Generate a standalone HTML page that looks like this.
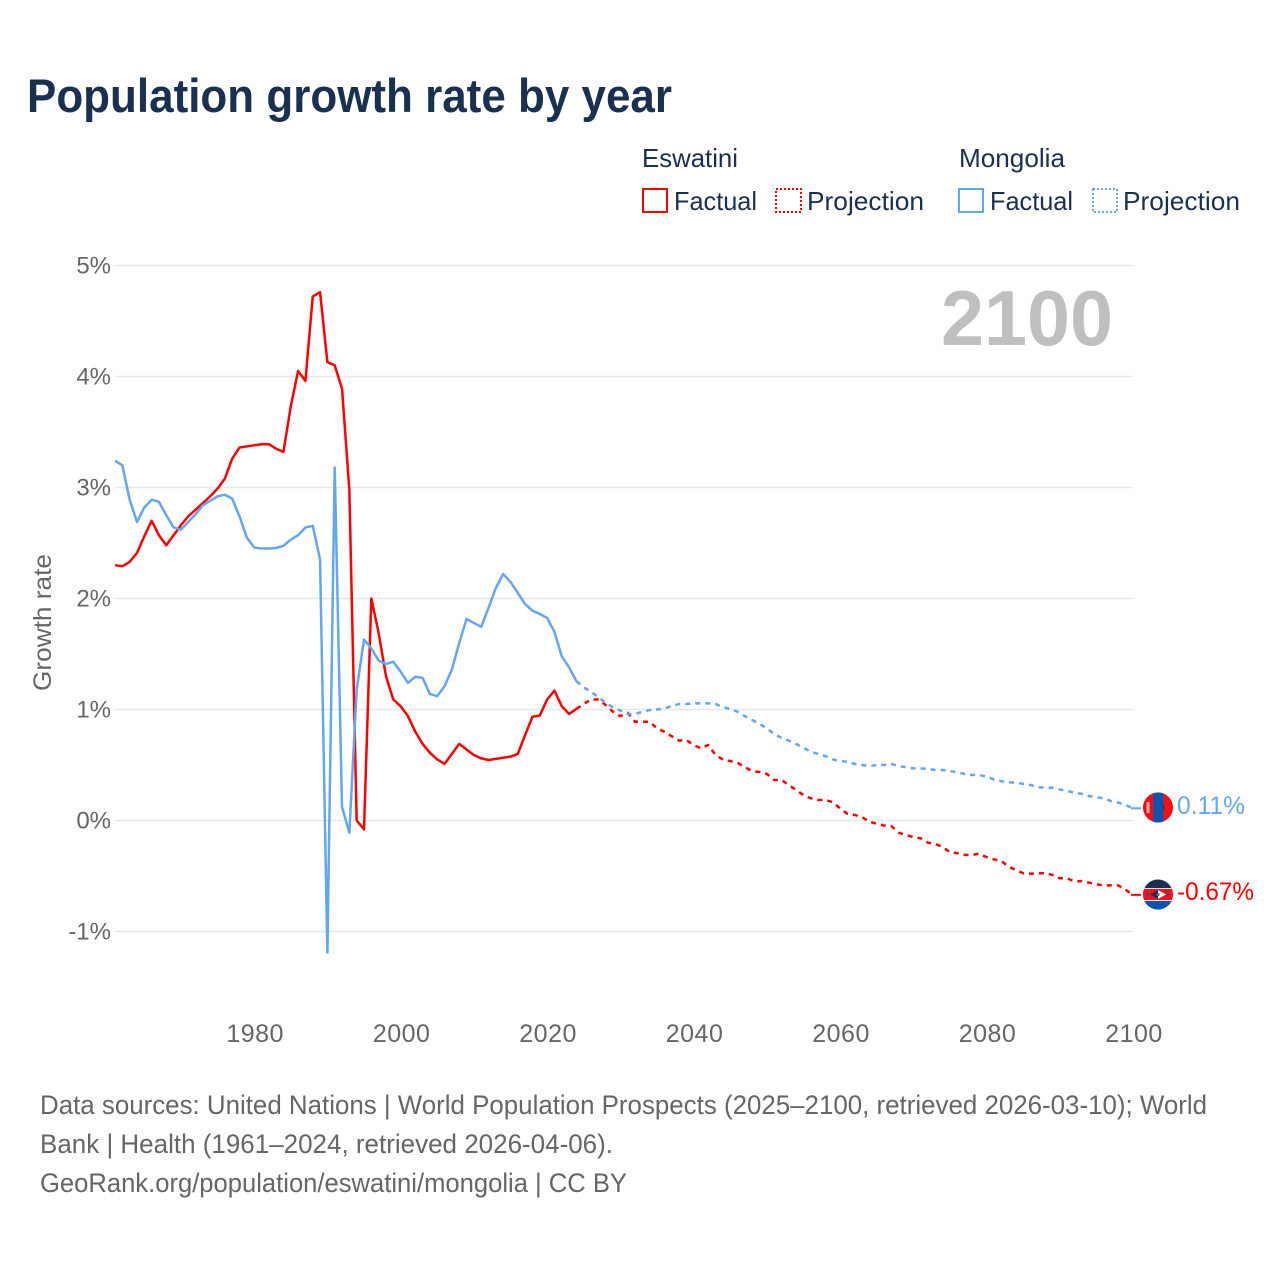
<!DOCTYPE html>
<html lang="en">
<head>
<meta charset="utf-8">
<title>Population growth rate by year</title>
<style>
  html, body { margin: 0; padding: 0; background: #ffffff; }
  svg { display: block; font-family: "Liberation Sans", sans-serif; }
</style>
</head>
<body>
<svg id="chart" xmlns="http://www.w3.org/2000/svg" width="1280" height="1280" viewBox="0 0 1280 1280">
  <defs>
    <clipPath id="flag-clip-mn"><circle cx="1158" cy="807.5" r="15"/></clipPath>
    <clipPath id="flag-clip-sz"><circle cx="1158" cy="894.5" r="15"/></clipPath>
  </defs>

  <text x="27" y="112" font-size="47" font-weight="700" fill="#1a3050" textLength="645" lengthAdjust="spacingAndGlyphs">Population growth rate by year</text>

  <g font-size="26" fill="#1a3050">
    <text x="642" y="167" textLength="96" lengthAdjust="spacingAndGlyphs">Eswatini</text>
    <text x="959" y="167" textLength="106" lengthAdjust="spacingAndGlyphs">Mongolia</text>
    <rect x="643" y="189" width="24" height="23" fill="none" stroke="#ff0000" stroke-width="2"/>
    <text x="674" y="210" textLength="83" lengthAdjust="spacingAndGlyphs">Factual</text>
    <rect x="776" y="189" width="25" height="23" fill="none" stroke="#ff0000" stroke-width="2" stroke-dasharray="2 2"/>
    <text x="807" y="210" textLength="117" lengthAdjust="spacingAndGlyphs">Projection</text>
    <rect x="959" y="189" width="24" height="23" fill="none" stroke="#64a7ec" stroke-width="2"/>
    <text x="990" y="210" textLength="83" lengthAdjust="spacingAndGlyphs">Factual</text>
    <rect x="1093" y="189" width="24" height="23" fill="none" stroke="#64a7ec" stroke-width="2" stroke-dasharray="2 2"/>
    <text x="1123" y="210" textLength="117" lengthAdjust="spacingAndGlyphs">Projection</text>
  </g>

  <text transform="translate(51,622.5) rotate(-90)" text-anchor="middle" font-size="25" fill="#666666" textLength="137" lengthAdjust="spacingAndGlyphs">Growth rate</text>

  <g id="grid"></g>
  <g id="y-ticks"></g>
  <g id="x-ticks"></g>

  <text x="941" y="345" font-size="78" font-weight="700" fill="#bfbfbf" textLength="172" lengthAdjust="spacingAndGlyphs">2100</text>

  <g id="series"></g>

  <g clip-path="url(#flag-clip-mn)">
    <rect x="1143" y="792" width="30" height="31" fill="#f70d12"/>
    <rect x="1153" y="792" width="10.5" height="31" fill="#0a55b0"/>
    <rect x="1146.5" y="802" width="3" height="11" fill="#f8b0a8"/>
    <rect x="1163" y="805" width="1" height="4" fill="#102a50"/>
  </g>
  <g clip-path="url(#flag-clip-sz)">
    <rect x="1143" y="879" width="30" height="31" fill="#182f52"/>
    <rect x="1143" y="888" width="30" height="13" fill="#f5e6d0"/>
    <rect x="1143" y="889" width="30" height="11" fill="#f5101c"/>
    <rect x="1143" y="901" width="30" height="9" fill="#0a55b0"/>
    <polygon points="1150,894.5 1158,890 1158,899" fill="#182f52"/>
    <polygon points="1166,894.5 1158,890 1158,899" fill="#ffffff"/>
    <circle cx="1158" cy="894.5" r="1.6" fill="#666"/>
    <circle cx="1148" cy="894.5" r="1.3" fill="#0a55b0"/>
    <circle cx="1168" cy="894.5" r="1.3" fill="#0a55b0"/>
  </g>

  <text x="1177" y="814" font-size="25" fill="#64a7ec" textLength="68" lengthAdjust="spacingAndGlyphs">0.11%</text>
  <text x="1177" y="900" font-size="25" fill="#ff0000" textLength="77" lengthAdjust="spacingAndGlyphs">-0.67%</text>

  <g font-size="26.5" fill="#666666">
    <text x="40" y="1114" textLength="1167" lengthAdjust="spacingAndGlyphs">Data sources: United Nations | World Population Prospects (2025–2100, retrieved 2026-03-10); World</text>
    <text x="40" y="1153" textLength="573" lengthAdjust="spacingAndGlyphs">Bank | Health (1961–2024, retrieved 2026-04-06).</text>
    <text x="40" y="1192" textLength="587" lengthAdjust="spacingAndGlyphs">GeoRank.org/population/eswatini/mongolia | CC BY</text>
  </g>
</svg>

<script>
// Chart data: growth rate in percent, one value per year.
const factualStartYear = 1961;
const projectionStartYear = 2024;
const xTickYears = [1980, 2000, 2020, 2040, 2060, 2080, 2100];
const yTickValues = [-1, 0, 1, 2, 3, 4, 5];
const yTickLabels = ["-1%", "0%", "1%", "2%", "3%", "4%", "5%"];

const eswatiniFactual = [
  2.30, 2.29, 2.33, 2.41, 2.56, 2.70, 2.57, 2.48, 2.57, 2.66,
  2.74, 2.80, 2.86, 2.92, 2.99, 3.08, 3.26, 3.36, 3.37, 3.38,
  3.39, 3.39, 3.35, 3.32, 3.73, 4.05, 3.96, 4.72, 4.76, 4.13,
  4.10, 3.89, 2.98, 0.00, -0.08, 2.00, 1.69, 1.30, 1.09, 1.03,
  0.94, 0.80, 0.69, 0.61, 0.55, 0.51, 0.60, 0.69, 0.64, 0.59,
  0.56, 0.545, 0.555, 0.565, 0.575, 0.60, 0.77, 0.935, 0.945, 1.09,
  1.17, 1.03, 0.96, 1.005
];
const eswatiniProjection = [
  1.005, 1.05, 1.09, 1.09, 1.04, 0.98, 0.94, 0.97, 0.89, 0.89,
  0.89, 0.83, 0.80, 0.76, 0.72, 0.725, 0.68, 0.65, 0.68, 0.59,
  0.55, 0.535, 0.52, 0.48, 0.445, 0.437, 0.42, 0.365, 0.365, 0.32,
  0.275, 0.23, 0.20, 0.185, 0.185, 0.165, 0.11, 0.06, 0.05, 0.03,
  -0.01, -0.03, -0.045, -0.05, -0.11, -0.13, -0.15, -0.16, -0.20, -0.21,
  -0.24, -0.285, -0.295, -0.31, -0.31, -0.30, -0.33, -0.35, -0.365, -0.415,
  -0.445, -0.475, -0.48, -0.475, -0.475, -0.49, -0.52, -0.52, -0.55, -0.545,
  -0.56, -0.575, -0.585, -0.585, -0.585, -0.625, -0.67
];
const mongoliaFactual = [
  3.24, 3.20, 2.89, 2.69, 2.82, 2.89, 2.87, 2.75, 2.64, 2.62,
  2.69, 2.76, 2.84, 2.88, 2.92, 2.935, 2.90, 2.74, 2.55, 2.46,
  2.45, 2.45, 2.455, 2.475, 2.53, 2.57, 2.64, 2.655, 2.35, -1.19,
  3.18, 0.12, -0.11, 1.18, 1.63, 1.55, 1.44, 1.41, 1.43, 1.34,
  1.24, 1.295, 1.285, 1.14, 1.12, 1.21, 1.36, 1.60, 1.815, 1.78,
  1.745, 1.915, 2.095, 2.22, 2.15, 2.05, 1.95, 1.89, 1.86, 1.825,
  1.70, 1.48, 1.38, 1.255
];
const mongoliaProjection = [
  1.255, 1.20, 1.16, 1.11, 1.06, 1.02, 0.99, 0.96, 0.96, 0.98,
  0.995, 1.00, 1.01, 1.03, 1.05, 1.05, 1.055, 1.055, 1.055, 1.05,
  1.02, 1.005, 0.98, 0.94, 0.905, 0.87, 0.83, 0.78, 0.745, 0.72,
  0.69, 0.655, 0.62, 0.60, 0.58, 0.55, 0.535, 0.53, 0.51, 0.50,
  0.49, 0.50, 0.50, 0.51, 0.49, 0.48, 0.47, 0.47, 0.465, 0.455,
  0.455, 0.445, 0.435, 0.42, 0.41, 0.41, 0.395, 0.37, 0.355, 0.345,
  0.34, 0.33, 0.32, 0.30, 0.295, 0.295, 0.28, 0.265, 0.25, 0.24,
  0.22, 0.21, 0.20, 0.175, 0.16, 0.14, 0.11
];

const SVG_NS = "http://www.w3.org/2000/svg";
const RED = "#ff0000";
const BLUE = "#64a7ec";

function xScale(year) { return 115 + (year - 1961) * (1133 - 115) / 139; }
function yScale(value) { return 820.5 - value * 111; }

function buildPoints(startYear, values) {
  return values.map(function (v, i) {
    return xScale(startYear + i).toFixed(2) + "," + yScale(v).toFixed(2);
  }).join(" ");
}

function drawSeries(startYear, values, color, dash) {
  const line = document.createElementNS(SVG_NS, "polyline");
  line.setAttribute("points", buildPoints(startYear, values));
  line.setAttribute("fill", "none");
  line.setAttribute("stroke", color);
  line.setAttribute("stroke-width", "2.5");
  line.setAttribute("stroke-linejoin", "round");
  if (dash) { line.setAttribute("stroke-dasharray", dash); }
  document.getElementById("series").appendChild(line);
  return line;
}

function drawLeader(values, color) {
  const last = values[values.length - 1];
  const line = document.createElementNS(SVG_NS, "line");
  line.setAttribute("x1", xScale(2100) - 2);
  line.setAttribute("x2", "1141");
  line.setAttribute("y1", yScale(last));
  line.setAttribute("y2", yScale(last));
  line.setAttribute("stroke", color);
  line.setAttribute("stroke-width", "2");
  document.getElementById("series").appendChild(line);
  return line;
}

yTickValues.forEach(function (v, i) {
  const grid = document.createElementNS(SVG_NS, "line");
  
  
  grid.setAttribute("x1", xScale(1961));
  grid.setAttribute("x2", xScale(2100));
  grid.setAttribute("y1", yScale(v));
  grid.setAttribute("y2", yScale(v));
  grid.setAttribute("stroke", "#e8e8e8");
  grid.setAttribute("stroke-width", "1.5");
  document.getElementById("grid").appendChild(grid);

  const label = document.createElementNS(SVG_NS, "text");
  
  
  label.setAttribute("x", "111");
  label.setAttribute("y", yScale(v) + 8);
  label.setAttribute("text-anchor", "end");
  label.setAttribute("font-size", "24");
  label.setAttribute("fill", "#666666");
  label.textContent = yTickLabels[i];
  document.getElementById("y-ticks").appendChild(label);
});

xTickYears.forEach(function (year) {
  const label = document.createElementNS(SVG_NS, "text");
  
  
  label.setAttribute("x", xScale(year) + 1);
  label.setAttribute("y", "1042");
  label.setAttribute("text-anchor", "middle");
  label.setAttribute("font-size", "25");
  label.setAttribute("letter-spacing", "0.5");
  label.setAttribute("fill", "#666666");
  label.textContent = String(year);
  document.getElementById("x-ticks").appendChild(label);
});

const eswatiniFactualLine = drawSeries(factualStartYear, eswatiniFactual, RED, null);



const eswatiniProjectionLine = drawSeries(projectionStartYear, eswatiniProjection, RED, "5 5");



const mongoliaFactualLine = drawSeries(factualStartYear, mongoliaFactual, BLUE, null);



const mongoliaProjectionLine = drawSeries(projectionStartYear, mongoliaProjection, BLUE, "5 5");



const eswatiniLeader = drawLeader(eswatiniProjection, RED);



const mongoliaLeader = drawLeader(mongoliaProjection, BLUE);


</script>
</body>
</html>
